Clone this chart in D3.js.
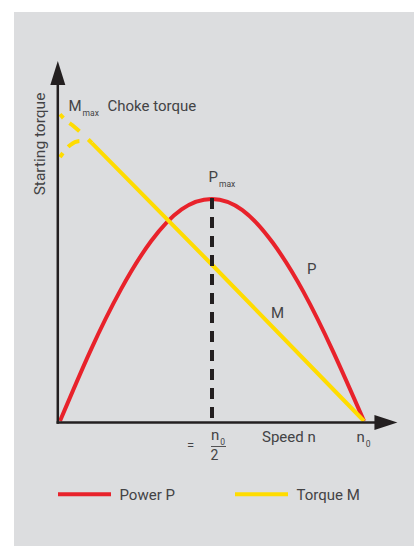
<!DOCTYPE html>
<html>
<head>
<meta charset="utf-8">
<script src="https://cdn.jsdelivr.net/npm/d3@7"></script>
<style>
  html, body { margin: 0; padding: 0; background: #ffffff; }
  svg { display: block; }
  text { font-family: Roboto, "Liberation Sans", Arial, sans-serif; fill: #434345; }
</style>
</head>
<body>
<svg id="chart" width="414" height="546"></svg>
<script>
// Relative speed n / n0
const speed = [0, 0.1, 0.2, 0.3, 0.4, 0.5, 0.6, 0.7, 0.8, 0.9, 1.0];
// Power P over speed
const power = [0, 19.5, 36.5, 50, 58.8, 61.7, 58.6, 49.5, 36, 19, 0];

// Torque M: solid linear part from the choke point down to zero at n0
const torqueSpeed = [0.105, 0.5, 1.0];
const torqueValue = [77.2, 43.4, 0];

// Dashed start-up branches near standstill (upper: Mmax, lower: choke torque)
const upperSpeed = [0, 0.013, 0.04, 0.079, 0.105];
const upperValue = [85.2, 84.0, 82.2, 79.3, 77.2];
const lowerSpeed = [0, 0.01, 0.033, 0.066, 0.085, 0.105];
const lowerValue = [73.3, 74.5, 76.6, 77.8, 77.6, 77.2];

// Axis extents (arrow tips) in data units
const xAxisEnd = 1.11;
const yAxisEnd = 100;

const legendItems = ["Power P", "Torque M"];

const svg = d3.select("#chart");

// panel background
svg.append("rect")
  .attr("x", 14).attr("y", 12)
  .attr("width", 400).attr("height", 534)
  .attr("fill", "#dcdddf");

const x = d3.scaleLinear().domain([0, 1]).range([60, 364]);
const y = d3.scaleLinear().domain([0, 100]).range([421, 61]);

const RED = "#e8222b";
const YELLOW = "#ffdc00";
const INK = "#231f20";

const line = d3.line()
  .x(d => x(d[0]))
  .y(d => y(d[1]));

// Power curve
svg.append("path")
  .datum(d3.zip(speed, power))
  .attr("d", line.curve(d3.curveNatural))
  .attr("fill", "none")
  .attr("stroke", RED)
  .attr("stroke-width", 4);

// Torque curve, solid part
svg.append("path")
  .datum(d3.zip(torqueSpeed, torqueValue))
  .attr("d", line.curve(d3.curveLinear))
  .attr("fill", "none")
  .attr("stroke", YELLOW)
  .attr("stroke-width", 4);

// Torque curve, dashed branches
[[upperSpeed, upperValue], [lowerSpeed, lowerValue]].forEach(([s, v]) => {
  svg.append("path")
    .datum(d3.zip(s, v))
    .attr("d", line.curve(d3.curveMonotoneX))
    .attr("fill", "none")
    .attr("stroke", YELLOW)
    .attr("stroke-width", 4)
    .attr("stroke-dasharray", "5,8,13,12");
});

// Vertical dashed marker at n0/2 up to Pmax
const peakIdx = power.indexOf(d3.max(power));
svg.append("line")
  .attr("x1", x(speed[peakIdx])).attr("x2", x(speed[peakIdx]))
  .attr("y1", y(power[peakIdx]) - 1).attr("y2", y(0) + 1)
  .attr("stroke", INK)
  .attr("stroke-width", 4)
  .attr("stroke-dasharray", "11,8");

// Axes with arrow heads
const ax = svg.append("g");
const x0 = x(0) - 2.2, y0 = y(0) + 1.5;
ax.append("line")
  .attr("x1", x0).attr("y1", y0 + 1.2)
  .attr("x2", x0).attr("y2", y(yAxisEnd) + 20)
  .attr("stroke", INK).attr("stroke-width", 2.5);
ax.append("line")
  .attr("x1", x0 - 1.2).attr("y1", y0)
  .attr("x2", x(xAxisEnd) - 18).attr("y2", y0)
  .attr("stroke", INK).attr("stroke-width", 2.5);
ax.append("path")
  .attr("d", `M${x0},${y(yAxisEnd)} L${x0 + 7.5},${y(yAxisEnd) + 24} L${x0 - 7.5},${y(yAxisEnd) + 24} Z`)
  .attr("fill", INK);
ax.append("path")
  .attr("d", `M${x(xAxisEnd)},${y0} L${x(xAxisEnd) - 23},${y0 - 7.5} L${x(xAxisEnd) - 23},${y0 + 7.5} Z`)
  .attr("fill", INK);

// Labels
function label(px, py, main, sub, size) {
  const t = svg.append("text").attr("x", px).attr("y", py).attr("font-size", size || 15);
  t.append("tspan").text(main);
  if (sub) {
    t.append("tspan").attr("font-size", 8.5).attr("dy", 4.5).attr("dx", 1).text(sub);
  }
  return t;
}

svg.append("text")
  .attr("transform", `translate(45,${(y(yAxisEnd) + y(0)) / 2 - 97}) rotate(-90)`)
  .attr("text-anchor", "middle")
  .attr("font-size", 15.5)
  .text("Starting torque");

label(68.5, 111, "M", "max");
svg.append("text").attr("x", 107.5).attr("y", 111).attr("font-size", 15).text("Choke torque");

label(208.5, 182, "P", "max");
label(307, 274, "P");
label(271, 317.5, "M");

// n0/2 tick label
label(x(0.5) - 1, 440, "n", "0");
svg.append("line")
  .attr("x1", x(0.5) - 1).attr("x2", x(0.5) + 14)
  .attr("y1", 446.5).attr("y2", 446.5)
  .attr("stroke", "#434345").attr("stroke-width", 0.9);
svg.append("text").attr("x", x(0.5) - 1.5).attr("y", 460).attr("font-size", 14).text("2");
svg.append("text").attr("x", 187).attr("y", 450).attr("font-size", 13).text("=");

svg.append("text").attr("x", 262).attr("y", 442).attr("font-size", 15).text("Speed n");
label(x(1) - 7.5, 442, "n", "0");

// Legend
const legend = svg.append("g");
const legendColors = [RED, YELLOW];
const legendX = [58, 235];
legendItems.forEach((name, i) => {
  legend.append("line")
    .attr("x1", legendX[i]).attr("x2", legendX[i] + 53)
    .attr("y1", 494.3).attr("y2", 494.3)
    .attr("stroke", legendColors[i]).attr("stroke-width", 4);
  legend.append("text")
    .attr("x", legendX[i] + 61.5).attr("y", 500)
    .attr("font-size", 15)
    .text(name);
});
</script>
</body>
</html>
